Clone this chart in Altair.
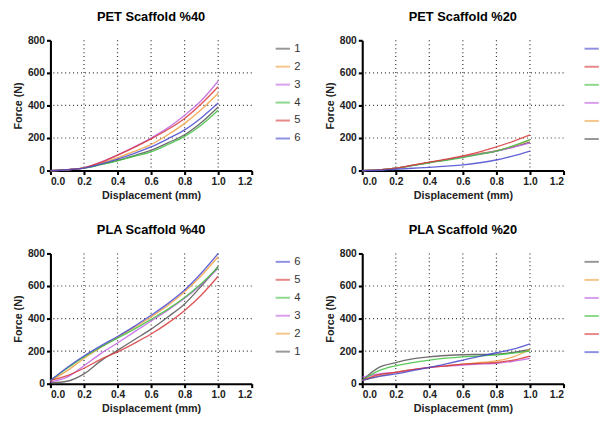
import altair as alt
import pandas as pd

# ---- data ----
disp = [0.0, 0.1, 0.2, 0.3, 0.4, 0.5, 0.6, 0.7, 0.8, 0.9, 1.0]

pet40 = {
    "1": [0, 6, 17, 38, 62, 92, 125, 170, 220, 295, 390],
    "2": [0, 5, 16, 42, 80, 118, 160, 220, 290, 375, 475],
    "3": [0, 5, 17, 52, 95, 145, 200, 262, 340, 430, 550],
    "4": [0, 5, 15, 36, 60, 88, 115, 160, 210, 280, 370],
    "5": [0, 5, 17, 50, 95, 143, 195, 252, 320, 410, 515],
    "6": [0, 5, 15, 40, 70, 105, 145, 195, 250, 325, 415],
}
pet20 = {
    "1": [0, 4, 15, 32, 50, 66, 84, 102, 120, 145, 175],
    "2": [0, 4, 15, 32, 50, 67, 86, 104, 122, 150, 185],
    "3": [0, 4, 15, 32, 50, 66, 84, 102, 120, 143, 170],
    "4": [0, 4, 14, 30, 48, 63, 80, 100, 120, 152, 190],
    "5": [0, 4, 15, 33, 52, 70, 90, 115, 145, 180, 220],
    "6": [0, 2, 8, 14, 20, 27, 35, 48, 65, 90, 120],
}
pla40 = {
    "1": [5, 15, 60, 140, 205, 270, 335, 410, 490, 600, 720],
    "2": [15, 80, 155, 222, 285, 345, 410, 480, 565, 665, 780],
    "3": [10, 40, 110, 185, 250, 318, 385, 452, 525, 610, 710],
    "4": [20, 95, 165, 225, 280, 335, 395, 458, 530, 615, 715],
    "5": [20, 50, 95, 150, 195, 248, 305, 372, 450, 545, 660],
    "6": [20, 100, 170, 232, 290, 352, 420, 492, 575, 680, 800],
}
pla20 = {
    "1": [20, 100, 130, 152, 165, 173, 178, 180, 182, 192, 210],
    "2": [20, 45, 70, 86, 100, 110, 120, 130, 140, 165, 210],
    "3": [40, 60, 70, 86, 100, 108, 115, 120, 125, 138, 155],
    "4": [20, 80, 110, 130, 145, 157, 165, 170, 177, 188, 200],
    "5": [20, 55, 70, 86, 100, 110, 120, 125, 130, 145, 170],
    "6": [20, 45, 60, 80, 100, 122, 145, 168, 190, 212, 245],
}

series_ids = ["1", "2", "3", "4", "5", "6"]
series_colors = ["#555555", "#f0a040", "#c060e0", "#40c040", "#d83838", "#4848d0"]

grid_x = [0.2, 0.4, 0.6, 0.8, 1.0]
grid_y = [200, 400, 600]
x_ticks = [0.0, 0.2, 0.4, 0.6, 0.8, 1.0, 1.2]
y_ticks = [0, 200, 400, 600, 800]

FONT = "Liberation Sans"


def to_df(d, key):
    rows = []
    for k, vals in d.items():
        for x, y in zip(disp, vals):
            rows.append({key: k, "disp": x, "force": y})
    return pd.DataFrame(rows)


def panel(title, d, key, reverse=False, edge=False):
    dom = series_ids[::-1] if reverse else series_ids
    rng = series_colors[::-1] if reverse else series_colors
    xs = alt.Scale(domain=[0, 1.2], nice=False)
    ys = alt.Scale(domain=[0, 800], nice=False)
    xaxis = alt.Axis(values=x_ticks, format=".1f", grid=False, labelOverlap=False,
                     title="Displacement (mm)")
    yaxis = alt.Axis(values=y_ticks, grid=False, labelOverlap=False,
                     title="Force (N)")
    if edge:
        legend = alt.Legend(title=None, symbolType="stroke", symbolSize=210,
                            symbolStrokeWidth=2, symbolOpacity=0.6,
                            labelExpr="''", labelOffset=0, labelFontSize=11.4,
                            rowPadding=4.3, offset=20, padding=0)
    else:
        legend = alt.Legend(title=None, symbolType="stroke", symbolSize=210,
                            symbolStrokeWidth=2, symbolOpacity=0.6,
                            labelFontSize=11.4, labelFont=FONT, labelColor="#333",
                            labelOffset=3, rowPadding=4.2, offset=23, padding=0)
    lines = alt.Chart(to_df(d, key)).mark_line(
        interpolate="monotone", strokeWidth=1.35, opacity=0.85
    ).encode(
        x=alt.X("disp:Q", scale=xs, axis=xaxis),
        y=alt.Y("force:Q", scale=ys, axis=yaxis),
        color=alt.Color(f"{key}:N", scale=alt.Scale(domain=dom, range=rng),
                        legend=legend),
    )
    gx = alt.Chart(pd.DataFrame({"g": grid_x})).mark_rule(
        color="#333", strokeDash=[1, 3], strokeWidth=1.2
    ).encode(x=alt.X("g:Q", scale=xs, axis=xaxis))
    gy = alt.Chart(pd.DataFrame({"g": grid_y})).mark_rule(
        color="#333", strokeDash=[1, 3], strokeWidth=1.2
    ).encode(y=alt.Y("g:Q", scale=ys, axis=yaxis))
    return alt.layer(gx, gy, lines).properties(
        width=204, height=132,
        title=alt.TitleParams(title, fontSize=13, font=FONT, fontWeight="bold",
                              anchor="middle", offset=12),
    )


top = alt.hconcat(panel("PET Scaffold %40", pet40, "a"),
                  panel("PET Scaffold %20", pet20, "b", reverse=True, edge=True),
                  spacing=23).resolve_scale(color="independent").resolve_legend(color="independent")
bottom = alt.hconcat(panel("PLA Scaffold %40", pla40, "c", reverse=True),
                     panel("PLA Scaffold %20", pla20, "d", edge=True),
                     spacing=23).resolve_scale(color="independent").resolve_legend(color="independent")
chart = alt.vconcat(top, bottom, spacing=23).resolve_scale(
    color="independent"
).resolve_legend(color="independent").properties(
    padding={"left": 4, "top": 0, "right": 0, "bottom": 0}
).configure_view(stroke=None).configure_axis(
    domainColor="black", domainWidth=2.1, tickColor="black", tickWidth=2.1,
    tickSize=4, labelFont=FONT, labelFontWeight="bold", labelFontSize=10.4,
    labelColor="#222", titleFont=FONT, titleFontWeight="bold", titleFontSize=10.9,
    titleColor="#222", labelPadding=2,
).configure_axisY(titlePadding=4).configure_axisX(titlePadding=3)

chart.save("out.html", embed_options={"renderer": "svg", "actions": False})
